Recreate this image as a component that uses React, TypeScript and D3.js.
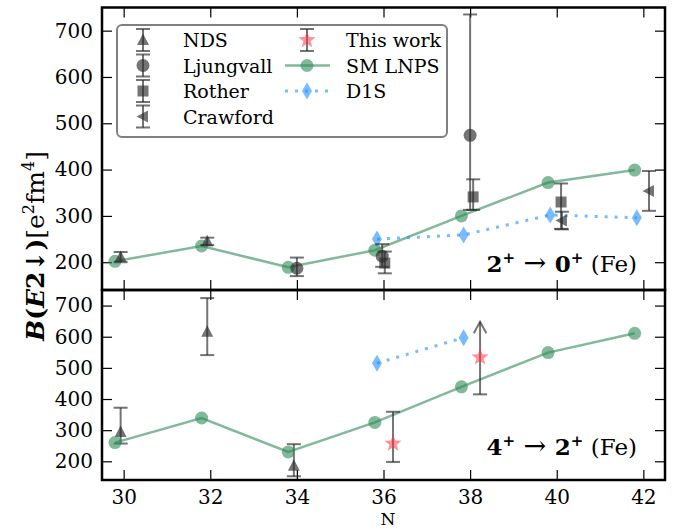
import React, { useRef, useEffect } from "react";
import * as d3 from "d3";

// SM LNPS shell-model curve (both panels)
const nSM = [29.8, 31.8, 33.8, 35.8, 37.8, 39.8, 41.8];
const smTop = [202, 235, 189, 226, 300, 372, 399];
const smBottom = [260, 339, 230, 325, 439, 549, 611];

// D1S
const nD1STop = [35.85, 37.85, 39.85, 41.85];
const d1sTop = [250, 259, 302, 296];
const nD1SBottom = [35.85, 37.85];
const d1sBottom = [515, 597];

// NDS
const nNDSTop = [29.93, 31.93];
const ndsTop = [211, 245];
const ndsTopLo = [200, 237];
const ndsTopHi = [222, 253];
const nNDSBottom = [29.93, 31.93, 33.93];
const ndsBottom = [294, 616, 186];
const ndsBottomLo = [257, 541, 152];
const ndsBottomHi = [372, 724, 255];

// Ljungvall
const nLjungvall = [34.0, 35.97, 38.0];
const ljungvall = [187, 213, 474];
const ljungvallLo = [170, 190, 313];
const ljungvallHi = [210, 239, 735];

// Rother
const nRother = [36.03, 38.07, 40.1];
const rother = [198, 341, 330];
const rotherLo = [176, 313, 272];
const rotherHi = [223, 379, 370];

// Crawford
const nCrawford = [40.12, 42.13];
const crawford = [290, 354];
const crawfordLo = [271, 311];
const crawfordHi = [309, 397];

// This work (4+ -> 2+)
const nThisWork = [36.22, 38.23];
const thisWork = [257, 534];
const thisWorkLo = [198, 415];
const thisWorkHi = [359, 648];
const thisWorkLowerLimit = [false, true];

const xTicks = [30, 32, 34, 36, 38, 40, 42];
const yTicks = [200, 300, 400, 500, 600, 700];

const SERIF = "'DejaVu Serif', serif";
const GRAY = "#2a2a2a";
const GREEN = "#2e8b57";
const BLUE = "#1e90ff";
const RED = "#ff3344";

const triUp = "M0,-6.5L6,5L-6,5Z";
const triLeft = "M-6.5,0L5,-6L5,6Z";
const square = "M-5.5,-5.5H5.5V5.5H-5.5Z";
const diamond = "M0,-8.5L5,0L0,8.5L-5,0Z";
const circle = "M-6.5,0A6.5,6.5 0 1,0 6.5,0A6.5,6.5 0 1,0 -6.5,0Z";
const starPath = (R: number, r: number) => {
  let p = "";
  for (let i = 0; i < 10; i++) {
    const a = -Math.PI / 2 + (i * Math.PI) / 5;
    const rad = i % 2 === 0 ? R : r;
    p += (i === 0 ? "M" : "L") + (rad * Math.cos(a)).toFixed(2) + "," + (rad * Math.sin(a)).toFixed(2);
  }
  return p + "Z";
};
const star = starPath(9, 3.7);

const App = () => {
  const svgRef = useRef<SVGSVGElement>(null);

  useEffect(() => {
    const width = 673;
    const height = 529;
    const left = 102, right = 665, top = 7.5, mid = 290, bottom = 480;

    const svg = d3.select(svgRef.current).attr("width", width).attr("height", height);
    svg.selectAll("*").remove();

    const x = d3.scaleLinear().domain([29.5, 42.5]).range([left, right]);
    const yT = d3.scaleLinear().domain([140, 750]).range([mid, top]);
    const yB = d3.scaleLinear().domain([140, 750]).range([bottom, mid]);

    const styleAxis = (g: any) => {
      g.select(".domain").remove();
      g.selectAll(".tick line").attr("stroke", "#000").attr("stroke-width", 1.2);
      g.selectAll("text").attr("font-family", SERIF).attr("font-size", 20).attr("fill", "#000");
    };
    const noLabel = () => "";

    // axes for both panels
    [[yT, top, mid], [yB, mid, bottom]].forEach(([y, y0, y1]: any, k) => {
      svg.append("g").attr("transform", `translate(${left},0)`)
        .call(d3.axisLeft(y).tickValues(yTicks).tickSizeInner(-10).tickSizeOuter(0).tickPadding(9).tickFormat(d3.format("d")))
        .call(styleAxis);
      svg.append("g").attr("transform", `translate(${right},0)`)
        .call(d3.axisRight(y).tickValues(yTicks).tickSizeInner(-10).tickSizeOuter(0).tickFormat(noLabel))
        .call(styleAxis);
      svg.append("g").attr("transform", `translate(0,${y0})`)
        .call(d3.axisTop(x).tickValues(xTicks).tickSizeInner(-10).tickSizeOuter(0).tickFormat(noLabel))
        .call(styleAxis);
      const bx = d3.axisBottom(x).tickValues(xTicks).tickSizeInner(-10).tickSizeOuter(0).tickPadding(10);
      if (k === 0) bx.tickFormat(noLabel);
      svg.append("g").attr("transform", `translate(0,${y1})`).call(bx).call(styleAxis);
    });

    const line = (y: any) => d3.line<number[]>().x(d => x(d[0])).y(d => y(d[1]));

    const drawSM = (y: any, vals: number[]) => {
      const pts = nSM.map((n, i) => [n, vals[i]]);
      svg.append("path").attr("d", line(y)(pts)).attr("fill", "none")
        .attr("stroke", GREEN).attr("stroke-width", 2.5).attr("opacity", 0.6);
      svg.append("g").selectAll("circle").data(pts).enter().append("circle")
        .attr("cx", d => x(d[0])).attr("cy", d => y(d[1])).attr("r", 6.5)
        .attr("fill", GREEN).attr("opacity", 0.6);
    };

    const drawD1S = (y: any, ns: number[], vals: number[]) => {
      const pts = ns.map((n, i) => [n, vals[i]]);
      svg.append("path").attr("d", line(y)(pts)).attr("fill", "none")
        .attr("stroke", BLUE).attr("stroke-width", 3).attr("stroke-dasharray", "3 7").attr("opacity", 0.6);
      svg.append("g").selectAll("path").data(pts).enter().append("path")
        .attr("d", diamond).attr("transform", d => `translate(${x(d[0])},${y(d[1])})`)
        .attr("fill", BLUE).attr("opacity", 0.6);
    };

    const drawErr = (y: any, ns: number[], vals: number[], lo: number[], hi: number[],
      shape: string, color: string, limits?: boolean[]) => {
      const g = svg.append("g");
      ns.forEach((n, i) => {
        const cx = x(n);
        const ylo = y(lo[i]);
        const yhi = y(hi[i]);
        g.append("line").attr("x1", cx).attr("x2", cx).attr("y1", ylo).attr("y2", yhi)
          .attr("stroke", GRAY).attr("stroke-width", 2).attr("opacity", 0.65);
        g.append("line").attr("x1", cx - 7).attr("x2", cx + 7).attr("y1", ylo).attr("y2", ylo)
          .attr("stroke", GRAY).attr("stroke-width", 2).attr("opacity", 0.65);
        if (limits && limits[i]) {
          g.append("path").attr("d", `M${cx - 6.3},${yhi + 11.5}L${cx},${yhi}L${cx + 6.3},${yhi + 11.5}`)
            .attr("fill", "none").attr("stroke", GRAY).attr("stroke-width", 2).attr("opacity", 0.65);
        } else {
          g.append("line").attr("x1", cx - 7).attr("x2", cx + 7).attr("y1", yhi).attr("y2", yhi)
            .attr("stroke", GRAY).attr("stroke-width", 2).attr("opacity", 0.65);
        }
        g.append("path").attr("d", shape).attr("transform", `translate(${cx},${y(vals[i])})`)
          .attr("fill", color).attr("opacity", color === RED ? 0.55 : 0.65);
      });
    };

    // top panel
    drawSM(yT, smTop);
    drawD1S(yT, nD1STop, d1sTop);
    drawErr(yT, nNDSTop, ndsTop, ndsTopLo, ndsTopHi, triUp, GRAY);
    drawErr(yT, nLjungvall, ljungvall, ljungvallLo, ljungvallHi, circle, GRAY);
    drawErr(yT, nRother, rother, rotherLo, rotherHi, square, GRAY);
    drawErr(yT, nCrawford, crawford, crawfordLo, crawfordHi, triLeft, GRAY);

    // bottom panel
    drawErr(yB, nNDSBottom, ndsBottom, ndsBottomLo, ndsBottomHi, triUp, GRAY);
    drawSM(yB, smBottom);
    drawD1S(yB, nD1SBottom, d1sBottom);
    drawErr(yB, nThisWork, thisWork, thisWorkLo, thisWorkHi, star, RED, thisWorkLowerLimit);

    // frames
    svg.append("rect").attr("x", left).attr("y", top).attr("width", right - left).attr("height", mid - top)
      .attr("fill", "none").attr("stroke", "#000").attr("stroke-width", 2.5);
    svg.append("rect").attr("x", left).attr("y", mid).attr("width", right - left).attr("height", bottom - mid)
      .attr("fill", "none").attr("stroke", "#000").attr("stroke-width", 2.5);

    // legend
    const lg = svg.append("g");
    lg.append("rect").attr("x", 117).attr("y", 25).attr("width", 330).attr("height", 112).attr("rx", 5)
      .attr("fill", "#fff").attr("fill-opacity", 0.9).attr("stroke", "#808080").attr("stroke-width", 2);
    const rows = [40, 65.5, 91, 116.5];
    const col1 = [["NDS", triUp], ["Ljungvall", circle], ["Rother", square], ["Crawford", triLeft]];
    const legendErr = (cx: number, cy: number) => {
      lg.append("line").attr("x1", cx).attr("x2", cx).attr("y1", cy - 11).attr("y2", cy + 11)
        .attr("stroke", GRAY).attr("stroke-width", 2).attr("opacity", 0.65);
      [cy - 11, cy + 11].forEach(yy => lg.append("line").attr("x1", cx - 7).attr("x2", cx + 7).attr("y1", yy).attr("y2", yy)
        .attr("stroke", GRAY).attr("stroke-width", 2).attr("opacity", 0.65));
    };
    const legendText = (tx: number, cy: number, label: string) =>
      lg.append("text").attr("x", tx).attr("y", cy + 7).attr("font-family", SERIF).attr("font-size", 19).text(label);
    col1.forEach(([label, shape], i) => {
      legendErr(143, rows[i]);
      lg.append("path").attr("d", shape).attr("transform", `translate(143,${rows[i]})`).attr("fill", GRAY).attr("opacity", 0.65);
      legendText(183, rows[i], label);
    });
    legendErr(307, rows[0]);
    lg.append("path").attr("d", star).attr("transform", `translate(307,${rows[0]})`).attr("fill", RED).attr("opacity", 0.55);
    legendText(346, rows[0], "This work");

    lg.append("line").attr("x1", 285).attr("x2", 330).attr("y1", rows[1]).attr("y2", rows[1])
      .attr("stroke", GREEN).attr("stroke-width", 2.5).attr("opacity", 0.6);
    lg.append("circle").attr("cx", 307).attr("cy", rows[1]).attr("r", 6.5).attr("fill", GREEN).attr("opacity", 0.6);
    legendText(346, rows[1], "SM LNPS");

    lg.append("line").attr("x1", 285).attr("x2", 330).attr("y1", rows[2]).attr("y2", rows[2])
      .attr("stroke", BLUE).attr("stroke-width", 3).attr("stroke-dasharray", "3 7").attr("opacity", 0.6);
    lg.append("path").attr("d", diamond).attr("transform", `translate(307,${rows[2]})`).attr("fill", BLUE).attr("opacity", 0.6);
    legendText(346, rows[2], "D1S");

    // panel annotations
    const annot = (yBase: number, a: string, b: string) => {
      const t = svg.append("text").attr("x", 637).attr("y", yBase).attr("text-anchor", "end")
        .attr("font-family", SERIF).attr("font-size", 23);
      t.append("tspan").attr("font-weight", "bold").text(a);
      t.append("tspan").attr("font-weight", "bold").attr("font-size", 15).attr("dy", -9).text("+");
      t.append("tspan").attr("font-size", 27).attr("dy", 9).text(" \u2192 ");
      t.append("tspan").attr("font-weight", "bold").text(b);
      t.append("tspan").attr("font-weight", "bold").attr("font-size", 15).attr("dy", -9).text("+");
      t.append("tspan").attr("dy", 9).text(" (Fe)");
    };
    annot(272, "2", "0");
    annot(455, "4", "2");

    // y label
    const yl = svg.append("text").attr("transform", "translate(44,246) rotate(-90)")
      .attr("text-anchor", "middle").attr("font-family", SERIF).attr("font-size", 25);
    yl.append("tspan").attr("font-weight", "bold").attr("font-style", "italic").text("B");
    yl.append("tspan").attr("font-weight", "bold").text("(");
    yl.append("tspan").attr("font-weight", "bold").attr("font-style", "italic").text("E");
    yl.append("tspan").attr("font-weight", "bold").text("2\u2193)");
    yl.append("tspan").text("[e");
    yl.append("tspan").attr("font-size", 16).attr("dy", -10).text("2");
    yl.append("tspan").attr("dy", 10).text("fm");
    yl.append("tspan").attr("font-size", 16).attr("dy", -10).text("4");
    yl.append("tspan").attr("dy", 10).text("]");

    // x label
    svg.append("text").attr("x", 388).attr("y", 525).attr("text-anchor", "middle")
      .attr("font-family", SERIF).attr("font-size", 17).text("N");
  }, []);

  return <svg ref={svgRef} style={{ position: "absolute", left: 0, top: 0, background: "#fff" }}></svg>;
};

export default App;
